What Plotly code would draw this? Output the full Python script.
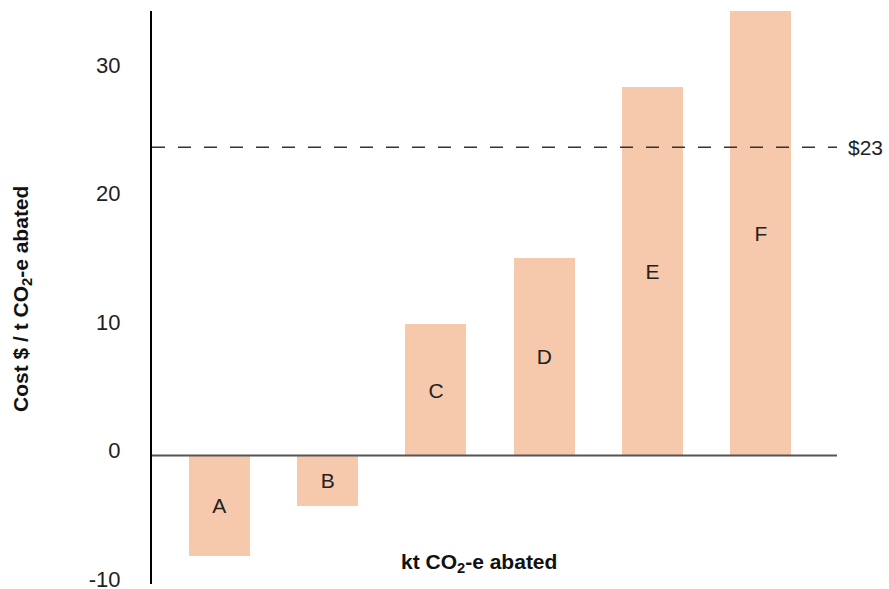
import plotly.graph_objects as go

# ---- data ----
categories = ["A", "B", "C", "D", "E", "F"]
costs = [-7.8, -3.9, 10.2, 15.4, 28.7, 34.6]
threshold_value = 24.0
threshold_label = "$23"
y_tick_values = [-10, 0, 10, 20, 30]
y_tick_labels = ["-10", "0", "10", "20", "30"]
y_title = "Cost $ / t CO<sub>2</sub>-e abated"
x_title = "kt CO<sub>2</sub>-e abated"

FONT = "Liberation Sans, Arial, sans-serif"
BAR_COLOR = "#F7C9AC"

PLOT_L, PLOT_R, PLOT_T, PLOT_B = 152, 52, 11, 5
W, H = 889, 589
pw = W - PLOT_L - PLOT_R
ph = H - PLOT_T - PLOT_B

fig = go.Figure()
fig.add_trace(go.Bar(
    x=categories,
    y=costs,
    text=categories,
    textposition="inside",
    insidetextanchor="middle",
    textangle=0,
    textfont=dict(family=FONT, size=21, color="#222222"),
    marker=dict(color=BAR_COLOR, line=dict(width=0)),
    width=0.563,
    hoverinfo="skip",
    showlegend=False,
))

# zero baseline
fig.add_shape(type="line", xref="paper", yref="y", x0=0, x1=1,
              y0=0, y1=0, line=dict(color="#555555", width=2), layer="above")
# threshold dashed line
fig.add_shape(type="line", xref="paper", yref="y", x0=0, x1=1,
              y0=threshold_value, y1=threshold_value,
              line=dict(color="#333333", width=1.5, dash="13px,13px"),
              layer="above")
fig.add_annotation(xref="paper", yref="y", x=1, y=threshold_value,
                   text=threshold_label, showarrow=False,
                   xanchor="left", yanchor="middle", xshift=9,
                   font=dict(family=FONT, size=21, color="#222222"))
# x-axis title (inside the plot area, near the bottom)
fig.add_annotation(xref="paper", yref="paper",
                   x=(479 - PLOT_L) / pw, y=(H - PLOT_B - 563) / ph,
                   text="<b>" + x_title + "</b>", showarrow=False,
                   xanchor="center", yanchor="middle",
                   font=dict(family=FONT, size=21, color="#111111"))
# y-axis title
fig.add_annotation(xref="paper", yref="paper",
                   x=(22 - PLOT_L) / pw, y=(H - PLOT_B - 299) / ph,
                   text="<b>" + y_title + "</b>", showarrow=False,
                   textangle=-90, xanchor="center", yanchor="middle",
                   font=dict(family=FONT, size=21, color="#111111"))

fig.update_layout(
    width=W, height=H,
    margin=dict(l=PLOT_L, r=PLOT_R, t=PLOT_T, b=PLOT_B),
    plot_bgcolor="white", paper_bgcolor="white",
    font=dict(family=FONT, color="#222222"),
    bargap=0,
    uniformtext=dict(mode=False),
    xaxis=dict(visible=False, type="category",
               range=[-0.622, 5.703]),
    yaxis=dict(
        range=[-10, 34.6],
        tickvals=y_tick_values, ticktext=y_tick_labels,
        showgrid=False, zeroline=False,
        showline=True, linecolor="#000000", linewidth=2,
        ticks="", ticklabelstandoff=25, ticklabelshift=-5,
        ticklabeloverflow="allow",
        tickfont=dict(family=FONT, size=22, color="#222222"),
        automargin=False,
    ),
)

fig.write_html("out.html",
               config={"displayModeBar": False, "staticPlot": True},
               post_script="document.body.style.margin='0';document.body.style.overflow='hidden';")
